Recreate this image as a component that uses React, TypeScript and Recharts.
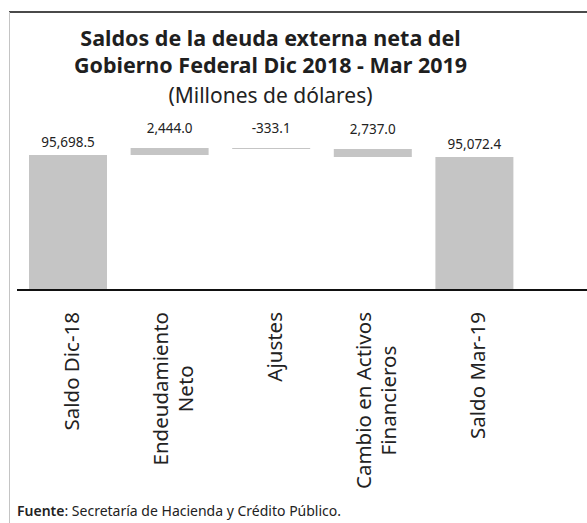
import React from 'react';
import { BarChart, Bar, XAxis, YAxis, LabelList } from 'recharts';

const categories = ['Saldo Dic-18', 'Endeudamiento Neto', 'Ajustes', 'Cambio en Activos Financieros', 'Saldo Mar-19'];
const tickLines = [['Saldo Dic-18'], ['Endeudamiento', 'Neto'], ['Ajustes'], ['Cambio en Activos', 'Financieros'], ['Saldo Mar-19']];
const reportedValues = [95698.5, 2444.0, -333.1, 2737.0, 95072.4];
const effects = ['total', 'add', 'add', 'subtract', 'total'];
const AXIS_MIN = 49000;
const AXIS_MAX = 103000;

const FONT = '"Noto Sans", "Open Sans", sans-serif';

const data = (() => {
  let running = 0;
  return categories.map((name, i) => {
    const v = reportedValues[i];
    const eff = effects[i];
    if (eff === 'total') {
      running = v;
      return { name, range: [AXIS_MIN, v], kind: eff, index: i };
    }
    const next = running + (eff === 'add' ? v : -v);
    const r = [Math.min(running, next), Math.max(running, next)];
    running = next;
    return { name, range: r, kind: eff, index: i };
  });
})();

const fmt = (v: number) => v.toLocaleString('en-US', { minimumFractionDigits: 1, maximumFractionDigits: 1 });

let measureCtx: CanvasRenderingContext2D | null = null;
const measure = (s: string, font: string) => {
  if (!measureCtx) measureCtx = document.createElement('canvas').getContext('2d');
  if (!measureCtx) return s.length * 10;
  measureCtx.font = font;
  return measureCtx.measureText(s).width;
};

const TICK_SIZE = 20.5;
const TICK_LH = 25;

const Tick = (props: any) => {
  const { x, y, index } = props;
  const lines = tickLines[index] || [String(props.payload?.value)];
  const maxW = Math.max(...lines.map((l: string) => measure(l, `${TICK_SIZE}px ${FONT}`)));
  const n = lines.length;
  return (
    <g transform={`translate(${x + 3},${y + 14})`}>
      <text transform="rotate(-90)" textAnchor="middle" fontSize={TICK_SIZE} fontFamily={FONT} fill="#222">
        {lines.map((l: string, i: number) => (
          <tspan key={i} x={-maxW / 2} y={(i - (n - 1) / 2) * TICK_LH} dominantBaseline="central">{l}</tspan>
        ))}
      </text>
    </g>
  );
};

const ValueLabel = (props: any) => {
  const { x, y, width, height, index } = props;
  const top = Math.min(y, y + height);
  const isTotal = effects[index] === 'total';
  const off = isTotal ? 13 : 20;
  return (
    <text x={x + width / 2} y={top - off} textAnchor="middle" dominantBaseline="central" fontSize={13.5} fontFamily={FONT} fill="#222">
      {fmt(reportedValues[index])}
    </text>
  );
};

export default function App() {
  return (
    <div style={{ position: 'absolute', left: 0, top: 0, width: 587, height: 523, background: '#fff', overflow: 'hidden', fontFamily: FONT }}>
      <div style={{ position: 'absolute', left: 9, top: 11, width: 580, height: 2, background: '#4a4a4a' }} />
      <div style={{ position: 'absolute', left: 9, top: 12, width: 1, height: 511, background: '#c4c4c4' }} />
      <div style={{ position: 'absolute', left: 0, width: 541, top: 24, textAlign: 'center', fontWeight: 700, fontSize: 21.5, lineHeight: '27px', color: '#1f1f1f', whiteSpace: 'nowrap' }}>
        Saldos de la deuda externa neta del<br />Gobierno Federal Dic 2018 - Mar 2019
      </div>
      <div style={{ position: 'absolute', left: 0, width: 541, top: 82, textAlign: 'center', fontSize: 21, lineHeight: '26px', color: '#222' }}>
        (Millones de dólares)
      </div>
      <div style={{ position: 'absolute', left: 0, top: 0 }}>
        <BarChart width={587} height={523} data={data} margin={{ top: 134, right: 62, left: 17, bottom: 33 }}>
          <YAxis hide domain={[AXIS_MIN, AXIS_MAX]} allowDataOverflow />
          <XAxis dataKey="name" interval={0} height={200} tickLine={false} axisLine={{ stroke: '#111', strokeWidth: 2 }} tick={<Tick />} />
          <Bar dataKey="range" fill="#c5c5c5" barSize={78} isAnimationActive={false}>
            <LabelList dataKey="range" content={<ValueLabel />} />
          </Bar>
        </BarChart>
      </div>
      <div style={{ position: 'absolute', left: 525, top: 289, width: 62, height: 2, background: '#111' }} />
      <div style={{ position: 'absolute', left: 17, top: 501, fontSize: 14, color: '#222', whiteSpace: 'nowrap' }}>
        <span style={{ fontWeight: 600 }}>Fuente</span>: Secretaría de Hacienda y Crédito Público.
      </div>
    </div>
  );
}
